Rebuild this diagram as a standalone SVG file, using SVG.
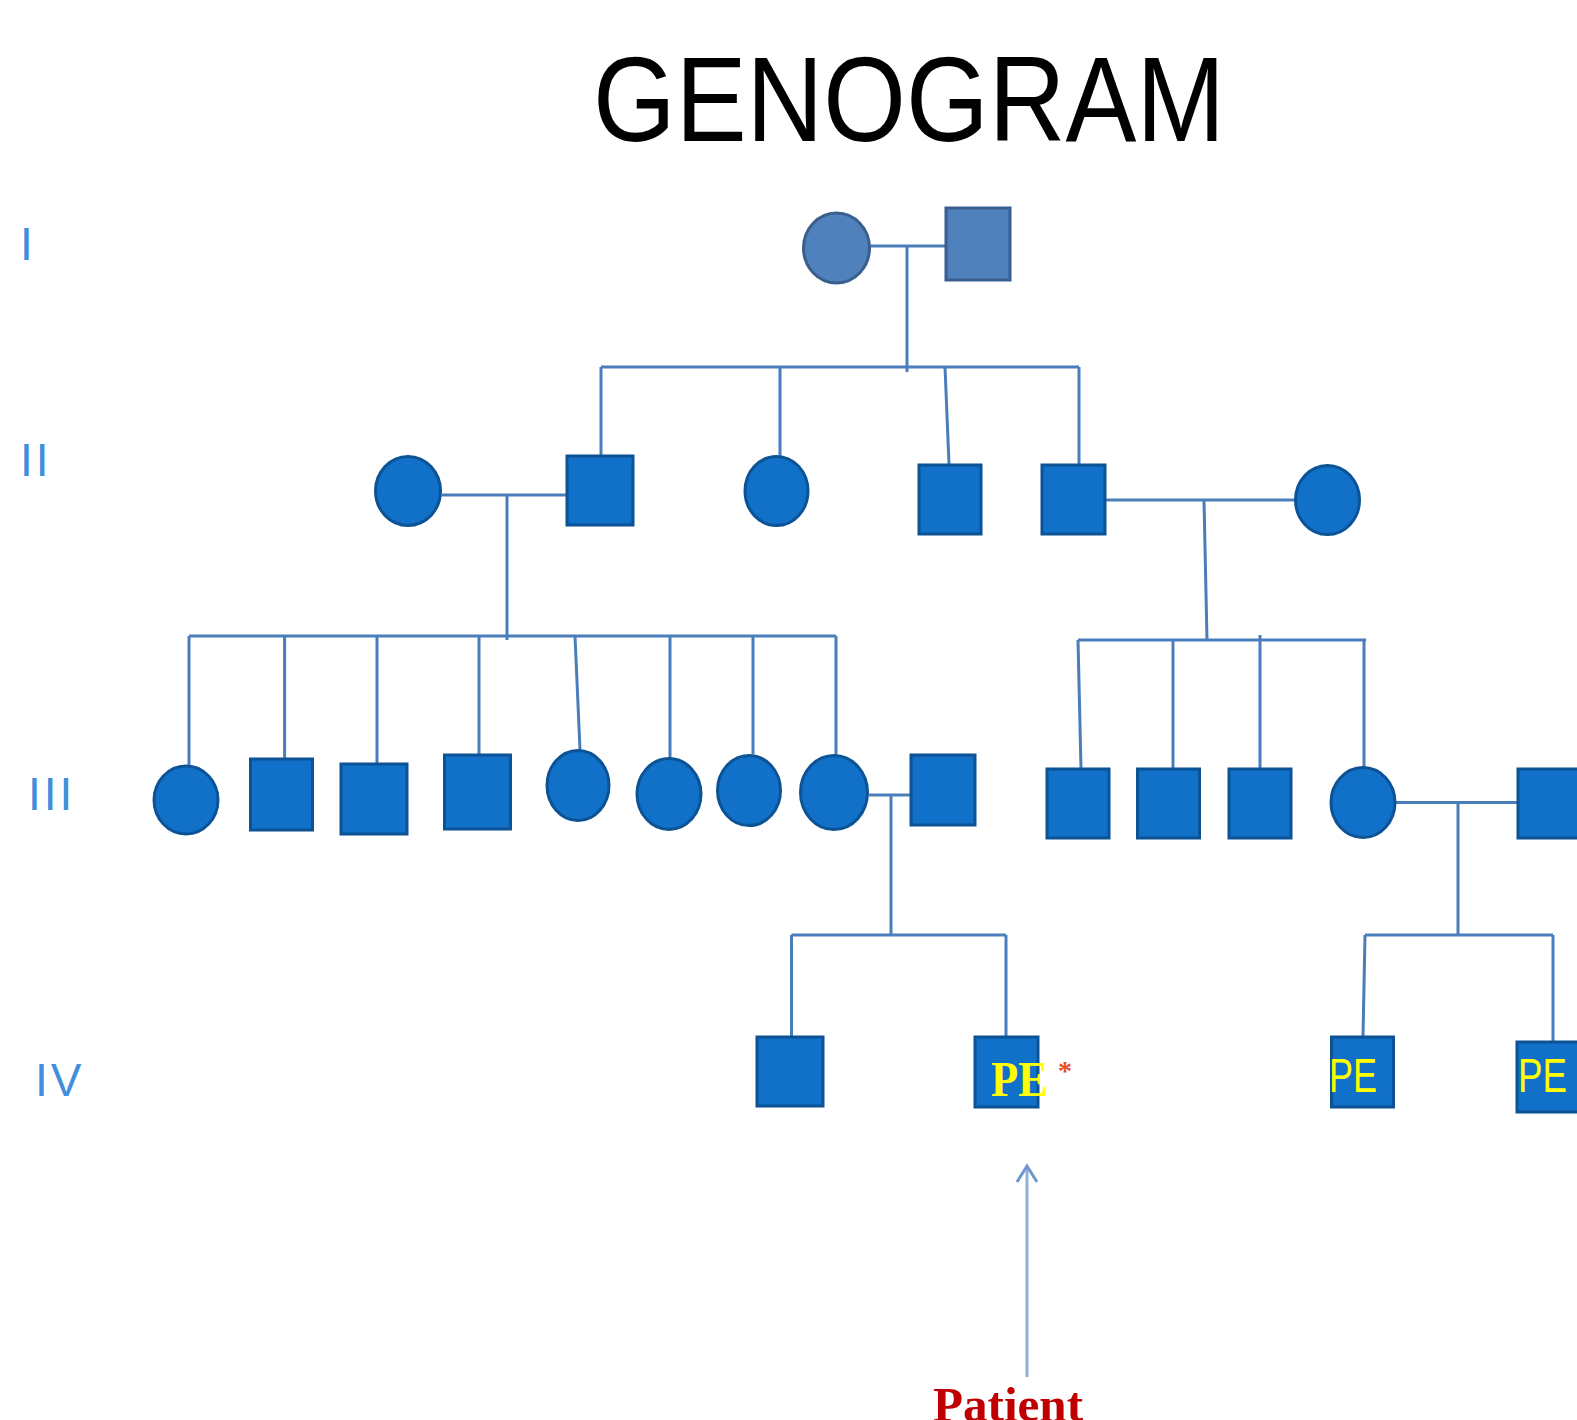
<svg xmlns="http://www.w3.org/2000/svg" width="1577" height="1420" viewBox="0 0 1577 1420">
<style>
.ln{stroke:#4a7ebb;stroke-width:3;fill:none}
.lt{stroke:#8fb0da;stroke-width:3;fill:none}
.f{fill:#1170c8;stroke:#0c5396;stroke-width:3}
.g1{fill:#4f81bd;stroke:#3a5f8f;stroke-width:3}
.gen{font-family:"Liberation Sans",Arial,sans-serif;font-size:46px;fill:#3f8fdc;letter-spacing:3px}
.pes{font-family:"Liberation Sans",Arial,sans-serif;font-size:48px;fill:#ffff00}
.pe{font-family:"Liberation Serif","Times New Roman",serif;font-weight:bold;font-size:50px;fill:#ffff00}
</style>
<defs>
<marker id="arr" markerWidth="24" markerHeight="24" refX="20" refY="12" orient="auto" markerUnits="userSpaceOnUse" viewBox="0 0 24 24">
<path d="M4,2 L20,12 L4,22" fill="none" stroke="#6d97cc" stroke-width="3"/>
</marker>
</defs>
<rect width="1577" height="1420" fill="#ffffff"/>
<text x="593" y="141" font-family="Liberation Sans,Arial,sans-serif" font-size="120" fill="#000" textLength="632" lengthAdjust="spacingAndGlyphs">GENOGRAM</text>
<g id="labels">
<text class="gen" x="20" y="260">I</text>
<text class="gen" x="20" y="476">II</text>
<text class="gen" x="28" y="810">III</text>
<text class="gen" x="35" y="1096">IV</text>
</g>
<g id="connectors">
<path class="ln" d="M870,246 H945 M907,246 V372"/>
<path class="ln" d="M601,367 H1079 M601,367 V455 M780,367 V456 M945,367 L949,464 M1079,367 V464"/>
<path class="ln" d="M442,495 H566 M507,495 V640"/>
<path class="ln" d="M1106,500 H1294 M1204,500 L1207,640"/>
<path class="ln" d="M189,636 H836 M189,636 V765 M284.6,636 V758 M377,636 V763 M479,636 V754 M575,636 L580,750 M670,636 V758 M753,636 V754 M836,636 V755"/>
<path class="ln" d="M1078,640 H1366 M1078,640 L1081,768 M1173,640 V768 M1260,635 V768 M1364,640 V767"/>
<path class="ln" d="M869,795 H910 M891,795 V935"/>
<path class="ln" d="M1396,802.6 H1517 M1458,803 V935"/>
<path class="ln" d="M791.5,935 H1006 M791.5,935 V1036 M1006,935 V1036"/>
<path class="ln" d="M1365,935 H1553 M1365,935 L1363,1036 M1553,935 V1041"/>
<path class="lt" d="M1027,1377 V1166" marker-end="url(#arr)"/>
</g>
<g id="gen1">
<ellipse id="i1" class="g1" cx="836.5" cy="248" rx="33" ry="35"/>
<rect id="i2" class="g1" x="946" y="208" width="64" height="72"/>
</g>
<g id="gen2">
<ellipse id="ii1" class="f" cx="408" cy="491" rx="32.5" ry="34.5"/>
<rect id="ii2" class="f" x="567" y="456" width="66" height="69"/>
<ellipse id="ii3" class="f" cx="776.5" cy="491" rx="31.5" ry="34.5"/>
<rect id="ii4" class="f" x="919" y="465" width="62" height="69"/>
<rect id="ii5" class="f" x="1042" y="465" width="63" height="69"/>
<ellipse id="ii6" class="f" cx="1327.5" cy="500" rx="32" ry="34.5"/>
</g>
<g id="gen3">
<ellipse id="iii1" class="f" cx="186" cy="800" rx="32" ry="34"/>
<rect id="iii2" class="f" x="250.5" y="759" width="62" height="71"/>
<rect id="iii3" class="f" x="341" y="764" width="66" height="70"/>
<rect id="iii4" class="f" x="444.5" y="755" width="66" height="74"/>
<ellipse id="iii5" class="f" cx="578" cy="785.5" rx="31" ry="35"/>
<ellipse id="iii6" class="f" cx="669" cy="794" rx="32" ry="35.5"/>
<ellipse id="iii7" class="f" cx="749" cy="790.5" rx="31.5" ry="35"/>
<ellipse id="iii8" class="f" cx="834" cy="792.5" rx="33.5" ry="37"/>
<rect id="iii9" class="f" x="911" y="755" width="64" height="70"/>
<rect id="iii10" class="f" x="1047" y="769" width="62" height="69"/>
<rect id="iii11" class="f" x="1137.5" y="769" width="62" height="69"/>
<rect id="iii12" class="f" x="1229" y="769" width="62" height="69"/>
<ellipse id="iii13" class="f" cx="1363" cy="802.5" rx="32" ry="35"/>
<rect id="iii14" class="f" x="1518" y="769" width="64" height="69"/>
</g>
<g id="gen4">
<rect id="iv1" class="f" x="757" y="1037" width="66" height="69"/>
<g id="iv2">
<rect class="f" x="975" y="1037" width="63" height="70"/>
<text class="pe" x="991" y="1096" textLength="57" lengthAdjust="spacingAndGlyphs">PE</text>
<text x="1058" y="1080" font-family="Liberation Serif,serif" font-weight="bold" font-size="28" fill="#e0502a">*</text>
</g>
<g id="iv3">
<rect class="f" x="1331.5" y="1037" width="62" height="70"/>
<text class="pes" x="1329" y="1092" textLength="48" lengthAdjust="spacingAndGlyphs">PE</text>
</g>
<g id="iv4">
<rect class="f" x="1517" y="1042" width="64" height="70"/>
<text class="pes" x="1518" y="1092" textLength="49" lengthAdjust="spacingAndGlyphs">PE</text>
</g>
</g>
<text id="patient" x="933" y="1421" font-family="Liberation Serif,Times New Roman,serif" font-weight="bold" font-size="49" fill="#c00000" textLength="150" lengthAdjust="spacingAndGlyphs">Patient</text>
</svg>
